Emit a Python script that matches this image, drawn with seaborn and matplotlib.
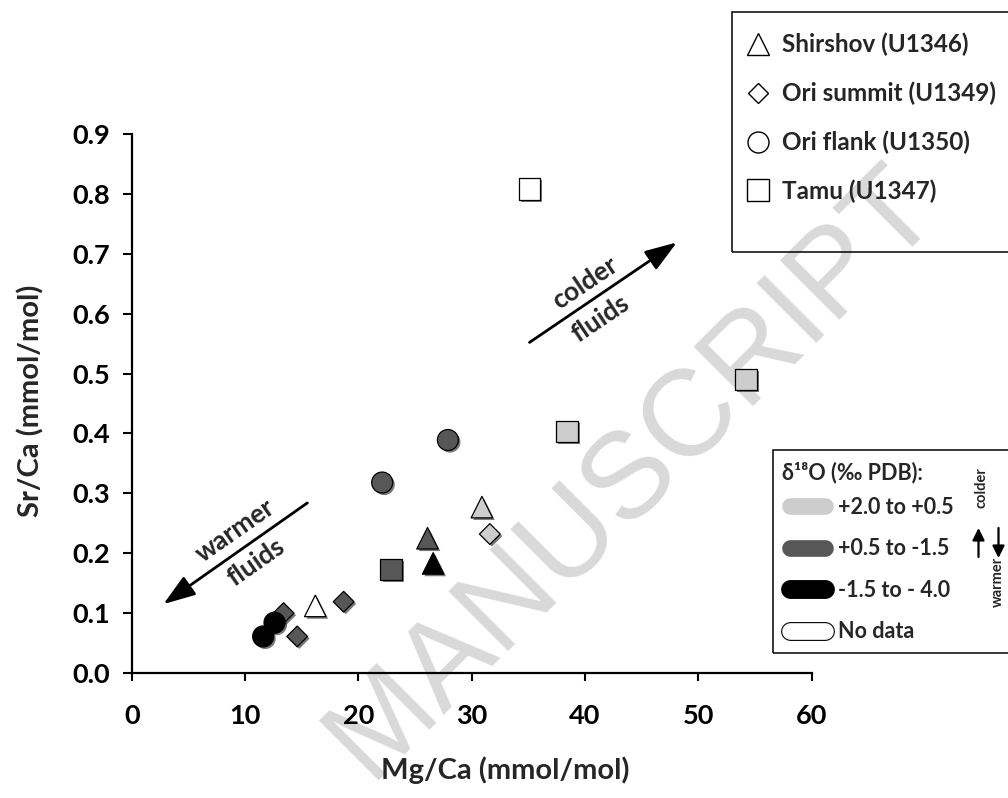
import numpy as np
import pandas as pd
import matplotlib
matplotlib.use("Agg")
import matplotlib.pyplot as plt
import matplotlib.patheffects as pe
from matplotlib.lines import Line2D
from matplotlib.patches import Rectangle
import seaborn as sns

# --- data ---
site = ["Ori flank", "Ori flank", "Ori summit", "Ori summit", "Shirshov", "Ori summit",
        "Tamu", "Shirshov", "Shirshov", "Ori flank", "Ori flank", "Shirshov",
        "Ori summit", "Tamu", "Tamu", "Tamu"]
mg_ca = [11.6, 12.6, 13.4, 14.6, 16.2, 18.7, 22.9, 26.1, 26.6, 22.1, 27.9, 30.9,
         31.6, 35.1, 54.2, 38.4]
sr_ca = [0.061, 0.084, 0.100, 0.061, 0.112, 0.119, 0.173, 0.225, 0.183, 0.318, 0.389,
         0.277, 0.232, 0.808, 0.490, 0.403]
d18o = ["-1.5 to - 4.0", "-1.5 to - 4.0", "+0.5 to -1.5", "+0.5 to -1.5", "No data",
        "+0.5 to -1.5", "+0.5 to -1.5", "+0.5 to -1.5", "-1.5 to - 4.0", "+0.5 to -1.5",
        "+0.5 to -1.5", "+2.0 to +0.5", "+2.0 to +0.5", "No data", "+2.0 to +0.5",
        "+2.0 to +0.5"]

site_order = ["Shirshov", "Ori summit", "Ori flank", "Tamu"]
site_labels = ["Shirshov (U1346)", "Ori summit (U1349)", "Ori flank (U1350)", "Tamu (U1347)"]
site_markers = ["^", "D", "o", "s"]
site_sizes = [240, 112, 228, 240]
d18o_order = ["+2.0 to +0.5", "+0.5 to -1.5", "-1.5 to - 4.0", "No data"]
d18o_colors = ["#cdcdcd", "#575757", "#000000", "#ffffff"]

df = pd.DataFrame({"site": site, "mg_ca": mg_ca, "sr_ca": sr_ca, "d18o": d18o})
palette = dict(zip(d18o_order, d18o_colors))

sns.set_theme(style="white")
plt.rcParams["font.family"] = ["Lato", "DejaVu Sans"]
plt.rcParams["font.weight"] = "bold"
plt.rcParams["axes.labelweight"] = "bold"

W, H = 1008, 798
fig = plt.figure(figsize=(W / 100, H / 100), dpi=100)
ax = fig.add_axes([131.7 / W, 1 - 673 / H, 680 / W, 539 / H])
ax.patch.set_alpha(0)

def fx(px):
    return px / W

def fy(py):
    return 1 - py / H

# watermark
fig.text(fx(632), fy(472), "MANUSCRIPT", fontsize=88, color="#d9d9d9", rotation=45,
         ha="center", va="center", rotation_mode="anchor", fontweight="normal",
         family="Liberation Sans", zorder=-5)

shadow = [pe.SimplePatchShadow(offset=(1.5, -1.5), shadow_rgbFace="0.25", alpha=0.7), pe.Normal()]
for name, mk, sz in zip(site_order, site_markers, site_sizes):
    sub = df[df["site"] == name]
    sns.scatterplot(data=sub, x="mg_ca", y="sr_ca", hue="d18o", palette=palette,
                    marker=mk, s=sz, edgecolor="black", linewidth=0.9,
                    legend=False, ax=ax, zorder=3)
    ax.collections[-1].set_path_effects(shadow)

ax.set_xlim(0, 60)
ax.set_ylim(0, 0.9)
ax.set_xticks(np.arange(0, 61, 10))
ax.set_yticks(np.arange(0, 0.91, 0.1))
ax.set_yticklabels([f"{v:.1f}" for v in np.arange(0, 0.91, 0.1)])
sns.despine(ax=ax)
for s in ["left", "bottom"]:
    ax.spines[s].set_color("black")
    ax.spines[s].set_linewidth(1.6)
ax.tick_params(axis="both", direction="out", colors="black", width=1.5, labelsize=19.5)
ax.tick_params(axis="x", length=5.5, pad=17, bottom=True)
ax.tick_params(axis="y", length=6.5, pad=9, left=True)

ax.set_xlabel("Mg/Ca (mmol/mol)", fontsize=21)
ax.set_ylabel("Sr/Ca (mmol/mol)", fontsize=21)
ax.xaxis.set_label_coords(0.549, -0.155)
ax.yaxis.set_label_coords(-0.128, 0.505)

# direction arrows
arrow_kw = dict(arrowstyle="-|>,head_length=1.3,head_width=0.45", color="black",
                lw=2, mutation_scale=15, shrinkA=0, shrinkB=0)
ax.annotate("", xy=(2.8, 0.115), xytext=(15.5, 0.284), arrowprops=arrow_kw)
ax.annotate("", xy=(48.1, 0.719), xytext=(35.1, 0.552), arrowprops=arrow_kw)
txt_kw = dict(fontsize=19, ha="center", va="center", rotation_mode="anchor")
ax.text(9.1, 0.238, "warmer", rotation=35, **txt_kw)
ax.text(11.0, 0.185, "fluids", rotation=35, **txt_kw)
ax.text(40.0, 0.651, "colder", rotation=34, **txt_kw)
ax.text(41.4, 0.592, "fluids", rotation=34, **txt_kw)

# legend 1: sites
fig.add_artist(Rectangle((fx(731.7), fy(251.7)), fx(1015) - fx(731.7), fy(11.7) - fy(251.7),
                         transform=fig.transFigure, fill=False, ec="black", lw=1.1))
site_handles = [Line2D([], [], ls="none", marker=mk, ms=np.sqrt(sz), mfc="white",
                       mec="black", mew=1.0) for mk, sz in zip(site_markers, site_sizes)]
leg1 = ax.legend(site_handles, site_labels, loc="upper left",
                 bbox_to_anchor=(fx(745), fy(33)), bbox_transform=fig.transFigure,
                 frameon=False, borderpad=0, borderaxespad=0, handlelength=1.07,
                 handletextpad=0.45, labelspacing=1.04, fontsize=17.5)
ax.add_artist(leg1)

# legend 2: d18O classes
fig.add_artist(Rectangle((fx(772.7), fy(652.7)), fx(1015) - fx(772.7), fy(450) - fy(652.7),
                         transform=fig.transFigure, fill=False, ec="black", lw=1.1))
fig.text(fx(781.7), fy(473), "δ¹⁸O (‰ PDB):", fontsize=15.5, ha="left", va="center")
pill_handles = []
for lab, col in zip(d18o_order, d18o_colors):
    effects = [pe.Normal()]
    if col in ("#000000", "#ffffff"):
        effects = [pe.Stroke(linewidth=13.6, foreground="black"), pe.Normal()]
    pill_handles.append(Line2D([], [], color=col, lw=12, solid_capstyle="round",
                               path_effects=effects))
ax.legend(pill_handles, d18o_order, loc="upper left",
          bbox_to_anchor=(fx(790), fy(497)), bbox_transform=fig.transFigure,
          frameon=False, borderpad=0, borderaxespad=0, handlelength=1.63,
          handletextpad=0.6, labelspacing=0.95, fontsize=15.5)

fig.text(fx(981), fy(488), "colder", fontsize=10.5, fontweight="bold", rotation=90,
         ha="center", va="center")
fig.text(fx(998), fy(582), "warmer", fontsize=10.5, fontweight="bold", rotation=90,
         ha="center", va="center")
small_arrow = dict(arrowstyle="-|>,head_length=0.6,head_width=0.3", color="black",
                   lw=1.6, mutation_scale=12, shrinkA=0, shrinkB=0)
ax.annotate("", xy=(fx(978.5), fy(528)), xytext=(fx(978.5), fy(557)),
            xycoords="figure fraction", textcoords="figure fraction", arrowprops=small_arrow)
ax.annotate("", xy=(fx(998.5), fy(558)), xytext=(fx(998.5), fy(528)),
            xycoords="figure fraction", textcoords="figure fraction", arrowprops=small_arrow)

fig.savefig("out.png", dpi=100)
